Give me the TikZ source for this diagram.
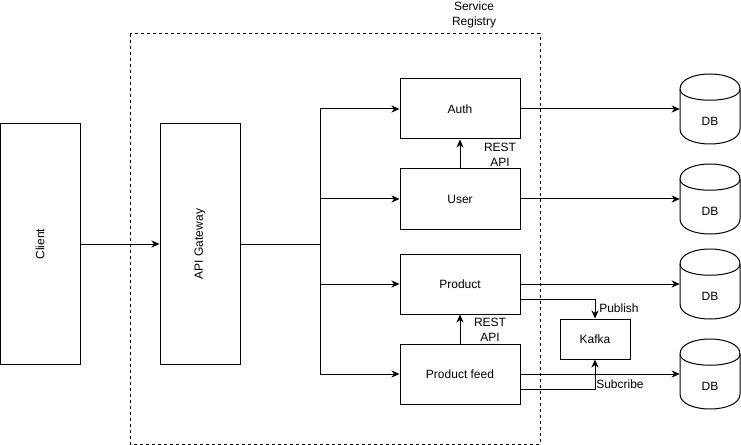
\documentclass[tikz,border=0pt]{standalone}
\usepackage{fontspec}
\setmainfont{Liberation Sans}
\usetikzlibrary{arrows.meta,calc}
\begin{document}
\begin{tikzpicture}[x=0.75pt,y=-0.75pt,
  every node/.style={font=\fontsize{9}{11.25}\selectfont, inner sep=0pt},
  box/.style={draw, line width=0.75pt, minimum width=90pt, minimum height=45pt},
  tallbox/.style={draw, line width=0.75pt, minimum width=60pt, minimum height=180pt},
  kbox/.style={draw, line width=0.75pt, minimum width=52.5pt, minimum height=30pt},
  dbbox/.style={minimum width=45pt, minimum height=52.5pt},
  dbline/.style={line width=0.75pt},
  conn/.style={line width=0.75pt},
  arr/.style={line width=0.75pt, -{Stealth[length=6pt,width=5.25pt,inset=1.8pt]}},
  lbl/.style={align=center},
  regbox/.style={line width=0.75pt, dash pattern=on 2.25pt off 2.25pt}
]
\useasboundingbox (0,0) rectangle (741,445);

% service registry
\draw[regbox] (130,34) rectangle (540,444);
\node[lbl] (reg) at (474,15) {Service\\Registry};

% left column
\node[tallbox] (client) at (40,244) {\rotatebox{90}{Client}};
\node[tallbox] (gw) at (200,244) {\rotatebox{90}{API Gateway}};

% services
\node[box] (auth) at (460,109) {Auth};
\node[box] (user) at (460,199) {User};
\node[box] (product) at (460,284) {Product};
\node[box] (feed) at (460,374) {Product feed};
\node[kbox] (kafka) at (595,339) {Kafka};

% databases
\foreach \n/\cy in {1/109,2/199,3/284,4/374}{
  \node[dbbox] (db\n) at (710,\cy) {};
  \draw[dbline] (680,\cy-20) .. controls (680,\cy-40) and (740,\cy-40) .. (740,\cy-20)
     -- (740,\cy+20) .. controls (740,\cy+40) and (680,\cy+40) .. (680,\cy+20) -- cycle;
  \draw[dbline] (680,\cy-20) .. controls (680,\cy-5) and (740,\cy-5) .. (740,\cy-20);
  \node (dbt\n) at (710,\cy+12) {DB};
}

% connectors
\draw[arr] (client.east) -- (gw.west);
\coordinate (fan) at (320,244);
\draw[conn] (gw.east) -- (fan);
\draw[arr] (fan) |- (auth.west);
\draw[arr] (fan) |- (user.west);
\draw[arr] (fan) |- (product.west);
\draw[arr] (fan) |- (feed.west);

\draw[arr] (user.north) -- (auth.south);
\node[lbl] (rest1) at (500,154.5) {REST\\API};
\draw[arr] (feed.north) -- (product.south);
\node[lbl] (rest2) at (490,329.5) {REST\\API};

\draw[arr] (auth.east) -- (db1.west);
\draw[arr] (user.east) -- (db2.west);
\draw[arr] (product.east) -- (db3.west);
\draw[arr] (feed.east) -- (db4.west);

\draw[arr] ($(product.south east)!0.25!(product.north east)$) -| (kafka.north);
\node[anchor=west] (pub) at (599,308.5) {Publish};
\draw[arr] ($(feed.south east)!0.25!(feed.north east)$) -| (kafka.south);
\node[anchor=west] (sub) at (596,384) {Subcribe};
\end{tikzpicture}
\end{document}
